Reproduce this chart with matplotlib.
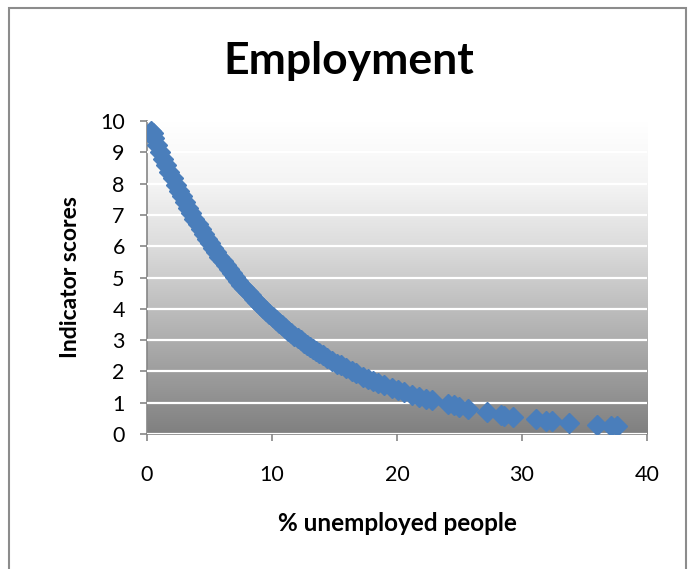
import numpy as np
import matplotlib
matplotlib.use("Agg")
import matplotlib.pyplot as plt
from matplotlib.colors import LinearSegmentedColormap
from matplotlib.patches import Rectangle

plt.rcParams['font.family'] = ['Lato', 'DejaVu Sans']

# % unemployed people (x) and indicator score (y) per record
unemployed = [
    0.30, 0.45, 0.55, 0.80, 1.05, 1.30, 1.55, 1.80, 2.05, 2.30, 2.55, 2.80,
    3.05, 3.30, 3.55, 3.80, 4.05, 4.30, 4.55, 4.80, 5.05, 5.30, 5.55, 5.80,
    6.05, 6.30, 6.55, 6.80, 7.05, 7.30, 7.55, 7.80, 8.05, 8.30, 8.55, 8.80,
    9.05, 9.30, 9.55, 9.80, 10.05, 10.30, 10.55, 10.80, 11.05, 11.30, 11.55,
    11.80, 12.05, 12.30, 12.55, 12.80, 13.05, 13.30, 13.55, 13.80, 14.05,
    14.40, 14.80, 15.20, 15.50, 15.90, 16.40, 16.70, 17.30, 17.70, 18.10,
    18.50, 19.00, 19.60, 20.10, 20.60, 21.20, 21.80, 22.30, 22.80, 24.10,
    24.60, 25.00, 25.70, 27.20, 28.30, 28.60, 29.30, 31.10, 31.90, 32.40,
    33.80, 36.00, 37.10, 37.60,
]
scores = [
    9.68, 9.62, 9.47, 9.24, 9.01, 8.80, 8.58, 8.37, 8.17, 7.97, 7.78, 7.59,
    7.41, 7.23, 7.05, 6.88, 6.72, 6.55, 6.40, 6.24, 6.09, 5.94, 5.80, 5.66,
    5.52, 5.39, 5.26, 5.13, 5.01, 4.89, 4.77, 4.65, 4.54, 4.43, 4.32, 4.22,
    4.12, 4.02, 3.92, 3.82, 3.73, 3.64, 3.55, 3.47, 3.38, 3.30, 3.22,
    3.14, 3.07, 2.99, 2.92, 2.85, 2.78, 2.71, 2.65, 2.58, 2.52,
    2.44, 2.34, 2.25, 2.19, 2.10, 2.00, 1.95, 1.83, 1.76, 1.69,
    1.63, 1.55, 1.46, 1.39, 1.33, 1.25, 1.18, 1.12, 1.07, 0.95,
    0.91, 0.86, 0.81, 0.69, 0.60, 0.57, 0.54, 0.47, 0.43, 0.40,
    0.36, 0.29, 0.26, 0.25,
]
x_ticks = [0, 10, 20, 30, 40]
y_ticks = list(range(0, 11))

fig = plt.figure(figsize=(6.91, 5.69), dpi=100)
ax = fig.add_axes([0.2127, 0.2373, 0.7236, 0.55])

# grey vertical gradient behind the plot area (white at the top)
stops = [(0.0, '#ffffff'), (0.2, '#f4f4f4'), (0.4, '#dcdcdc'),
         (0.6, '#bdbdbd'), (0.8, '#9e9e9e'), (1.0, '#808080')]
grad_cmap = LinearSegmentedColormap.from_list('bg', stops)
grad = np.linspace(0, 1, 256).reshape(-1, 1)
ax.imshow(grad, cmap=grad_cmap, aspect='auto', extent=[0, 40, 0, 10],
          origin='upper', zorder=0, interpolation='bilinear')

ax.set_xlim(0, 40)
ax.set_ylim(0, 10)
ax.set_xticks(x_ticks)
ax.set_yticks(y_ticks)
ax.grid(axis='y', color='white', linewidth=1.6, zorder=1)
ax.set_axisbelow(False)

ax.plot(unemployed, scores, linestyle='none', marker='D', markersize=9.8,
        color='#4a7ebb', markeredgecolor='#4a7ebb', zorder=3)

for side in ('top', 'right'):
    ax.spines[side].set_visible(False)
for side in ('left', 'bottom'):
    ax.spines[side].set_color('#868686')
    ax.spines[side].set_linewidth(1.2)

ax.tick_params(axis='y', direction='out', length=5, width=1.2, color='#868686',
               labelsize=15.5, pad=11)
ax.tick_params(axis='x', direction='out', length=5, width=1.2, color='#868686',
               labelsize=15.5, pad=17)

ax.set_ylabel('Indicator scores', fontsize=16.5, fontweight='bold', labelpad=14)
ax.set_xlabel('% unemployed people', fontsize=17.5, fontweight='bold', labelpad=20)

fig.text(0.505, 0.893, 'Employment', ha='center', va='center',
         fontsize=32, fontweight='bold')

# chart frame
fig.patches.append(Rectangle((9 / 691, -0.05), 677 / 691, 1 - 8 / 569 + 0.05,
                             transform=fig.transFigure, fill=False,
                             edgecolor='#8c8c8c', linewidth=1.5))

fig.savefig('out.png', dpi=100)
